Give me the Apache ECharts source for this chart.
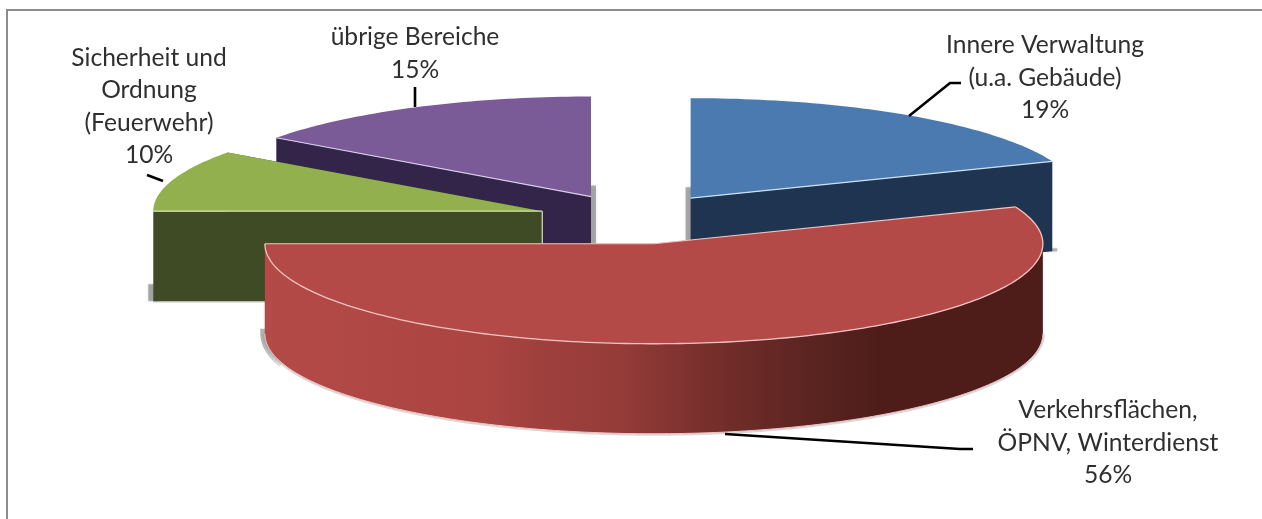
<!DOCTYPE html>
<html>
<head>
<meta charset="utf-8">
<style>html,body{margin:0;padding:0;background:#fff}#c{width:1262px;height:519px}</style>
<script src="https://cdn.jsdelivr.net/npm/echarts@6/dist/echarts.min.js"></script>
</head>
<body>
<div id="c"></div>
<script>
// Data
const categories = ['Innere Verwaltung\n(u.a. Gebäude)', 'Verkehrsflächen,\nÖPNV, Winterdienst', 'Sicherheit und\nOrdnung\n(Feuerwehr)', 'übrige Bereiche'];
const values = [19, 56, 10, 15];

// Styles
const topColors = ['#4a7ab0', '#b34a47', '#92b04d', '#7a5b97'];
const sideColors = ['#1f3450', '#5a211e', '#3f4b25', '#33244a'];
const edgeColors = ['#cfe0f2', '#f2c4c0', '#d5e2b0', '#d8cde6'];
const drawRank = [1, 3, 2, 0];
const rimStops = [[0, '#b34a47'], [0.277, '#ab4542'], [0.35, '#a0403d'], [0.455, '#943c39'], [0.557, '#7a302d'], [0.685, '#5e2522'], [0.787, '#4e1d1a'], [1, '#4e1d1a']];

// Pie geometry: the plot is mapped so that one x unit = rx px and one y unit = ry px
const W = 1262, H = 519, cx = 635.5, cy = 219, rx = 389, ry = 100;
const explode = 0.252, depth = 0.9;

// Callouts (pixel layout)
const labelPos = [[1045, 78], [1108, 443], [149, 106.5], [415, 53.5]];
const leaders = [
  [[909, 116], [950, 83], [961, 83]],
  [[725, 434], [960, 449], [973, 449]],
  [[147, 175], [163, 181]],
  [[415, 107], [415, 87]]
];

const total = values.reduce((a, b) => a + b, 0);
const starts = [];
values.reduce((acc, v, i) => { starts[i] = acc; return acc + v; }, 0);

function renderSlice(params, api) {
  const i = params.dataIndex;
  const a0 = starts[i] / total * 2 * Math.PI;
  const a1 = (starts[i] + values[i]) / total * 2 * Math.PI;
  const mid = (a0 + a1) / 2;
  const ox = Math.sin(mid) * explode, oy = Math.cos(mid) * explode;
  const P = (a, r, d) => api.coord([ox + Math.sin(a) * r, oy + Math.cos(a) * r - d]);
  const arc = (from, to, d) => {
    const n = Math.max(2, Math.ceil(Math.abs(to - from) / 0.02));
    const pts = [];
    for (let k = 0; k <= n; k++) pts.push(P(from + (to - from) * k / n, 1, d));
    return pts;
  };
  const base = drawRank[i] * 10;
  const out = [];
  const poly = (points, style, z) => out.push({ type: 'polygon', shape: { points }, style, z2: base + z, silent: true });
  const line = (points, stroke, w, z, extra) => out.push({ type: 'polyline', shape: { points }, style: Object.assign({ stroke, lineWidth: w, fill: null }, extra || {}), z2: base + z, silent: true });

  const cut0 = [P(0, 0, 0), P(a0, 1, 0), P(a0, 1, depth), P(0, 0, depth)];
  const cut1 = [P(0, 0, 0), P(a1, 1, 0), P(a1, 1, depth), P(0, 0, depth)];
  const f0 = Math.max(a0, Math.PI / 2), f1 = Math.min(a1, 3 * Math.PI / 2);
  const hasRim = f1 > f0;
  const rim = hasRim ? arc(f0, f1, 0).concat(arc(f1, f0, depth)) : null;

  // ground shadow strips
  const soft = 'rgba(140,140,140,0.7)';
  const blur = { shadowBlur: 3, shadowColor: 'rgba(140,140,140,0.5)' };
  if (i === 0) { // inner edge and outer corner of the blue slice
    line([P(0, 0, -0.11), P(0, 0, depth)], soft, 10, 0, blur);
    line([P(a1, 1, depth - 0.03), P(a1, 1, depth)], 'rgba(140,140,140,0.6)', 10, 0, blur);
  }
  if (i === 3) { // inner edge of the purple slice
    line([P(0, 0, -0.11), P(0, 0, depth)], soft, 10, 0, blur);
  }
  if (i === 2) { // outer edge of the green slice
    line([P(a0, 1, depth - 0.17), P(a0, 1, depth)], soft, 10, 0, blur);
    line([P(a0, 1, depth), P(0, 0, depth)], 'rgba(140,140,140,0.3)', 3, 0);
  }
  if (i === 1) { // under the red rim: thin along the edge, stronger at the left end
    line(arc(f0, f1, depth), 'rgba(130,130,130,0.3)', 4, 0);
    line([P(f1, 1, depth - 0.05)].concat(arc(f1, f1 - 0.3, depth)), {
      type: 'linear', global: true, x: 255, y: 0, x2: 290, y2: 0,
      colorStops: [{ offset: 0, color: 'rgba(130,130,130,0.8)' }, { offset: 1, color: 'rgba(130,130,130,0)' }]
    }, 9, 0);
  }

  poly(cut1, { fill: sideColors[i] }, 1);
  poly(cut0, { fill: sideColors[i] }, 2);
  if (rim) poly(rim, {
    fill: {
      type: 'linear', x: 0, y: 0, x2: 1, y2: 0,
      colorStops: rimStops.map(s => ({ offset: s[0], color: s[1] }))
    }
  }, 3);
  const top = [P(0, 0, 0)].concat(arc(a0, a1, 0));
  poly(top, { fill: topColors[i] }, 4);

  // thin light edges
  const e = edgeColors[i];
  if (Math.abs(Math.sin(a0)) > 0.5) line([P(0, 0, 0), P(a0, 1, 0)], e, 1.2, 5);
  if (i === 0 || i === 1) line([P(0, 0, 0), P(a1, 1, 0)], e, 1.2, 5);
  if (hasRim) {
    line(arc(a0, f1, 0), e, 1.3, 5);
    line(arc(f0, f1, depth), e, 1, 5);
  }
  if (i === 2) line([P(0, 0, 0), P(0, 0, depth)], e, 1.2, 5);
  return { type: 'group', children: out };
}

function renderCallout(params, api) {
  const i = params.dataIndex;
  const text = categories[i] + '\n' + api.value(0) + '%';
  return {
    type: 'group',
    children: [
      { type: 'polyline', z2: 90, silent: true, shape: { points: leaders[i] }, style: { stroke: '#000', lineWidth: 2.6, fill: null } },
      {
        type: 'text', z2: 100, silent: true, x: labelPos[i][0], y: labelPos[i][1],
        style: { text, fontFamily: 'Lato', fontSize: 24.6, lineHeight: 32.5, fill: '#2f2f2f', align: 'center', verticalAlign: 'middle' }
      }
    ]
  };
}

const chart = echarts.init(document.getElementById('c'), null, { renderer: 'canvas' });
chart.setOption({
  backgroundColor: '#fff',
  animation: false,
  tooltip: { show: false },
  grid: { left: 0, right: 0, top: 0, bottom: 0 },
  xAxis: { type: 'value', show: false, min: -cx / rx, max: (W - cx) / rx },
  yAxis: { type: 'value', show: false, min: (cy - H) / ry, max: cy / ry },
  graphic: [
    { type: 'polyline', silent: true, z: 0, shape: { points: [[7, 519], [7, 10], [1262, 10]] }, style: { stroke: '#8c8c8c', lineWidth: 2, fill: null } }
  ],
  series: [
    { name: 'slices', type: 'custom', coordinateSystem: 'cartesian2d', clip: false, silent: true, encode: { x: 0, y: 0 }, data: values.map(v => [v]), renderItem: renderSlice },
    { name: 'callouts', type: 'custom', coordinateSystem: 'cartesian2d', clip: false, silent: true, z: 5, encode: { x: 0, y: 0 }, data: values.map(v => [v]), renderItem: renderCallout }
  ]
});
</script>
</body>
</html>
